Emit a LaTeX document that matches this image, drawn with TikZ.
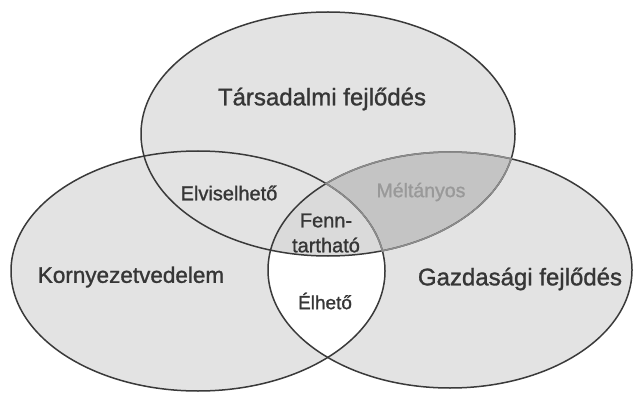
\documentclass[tikz,border=0pt]{standalone}
\usepackage{fontspec}
\setmainfont{Liberation Sans}
\newfontfamily\scanfont[FakeBold=1.2]{Liberation Sans}
\definecolor{lgray}{HTML}{E3E3E3}
\definecolor{dgray}{HTML}{C4C4C4}
\definecolor{cgray}{HTML}{DADADA}
\definecolor{edge}{HTML}{3A3A3A}
\definecolor{paleedge}{HTML}{8C8C8C}
\definecolor{txt}{HTML}{363636}
\begin{document}
\begin{tikzpicture}[x=1pt,y=-1pt,
  outline/.style={draw=edge, line width=1.5pt},
  paleline/.style={draw=paleedge, line width=1.5pt},
  biglab/.style={font=\scanfont\fontsize{24}{28}\selectfont, text=txt, inner sep=0pt},
  smalllab/.style={font=\scanfont\fontsize{20}{25}\selectfont, text=txt, inner sep=0pt, align=center},
  palelab/.style={font=\scanfont\fontsize{19.5}{22}\selectfont, text=black!40, inner sep=0pt}]
\useasboundingbox (0,0) rectangle (636,395);
\fill[white] (0,0) rectangle (636,395);
% base fills
\fill[lgray] (328,134) ellipse [x radius=187, y radius=122];
\fill[lgray] (198,271) ellipse [x radius=187, y radius=120];
\fill[lgray] (450,270) ellipse [x radius=182, y radius=118];
% top and right: darker
\begin{scope}
  \clip (328,134) ellipse [x radius=187, y radius=122];
  \fill[dgray] (450,270) ellipse [x radius=182, y radius=118];
\end{scope}
% left and right: white
\begin{scope}
  \clip (198,271) ellipse [x radius=187, y radius=120];
  \fill[white] (450,270) ellipse [x radius=182, y radius=118];
\end{scope}
% all three
\begin{scope}
  \clip (198,271) ellipse [x radius=187, y radius=120];
  \clip (450,270) ellipse [x radius=182, y radius=118];
  \fill[cgray] (328,134) ellipse [x radius=187, y radius=122];
\end{scope}
% outlines
\draw[outline] (328,134) ellipse [x radius=187, y radius=122];
\draw[outline] (198,271) ellipse [x radius=187, y radius=120];
\draw[outline] (450,270) ellipse [x radius=182, y radius=118];
% paler edges around the top-right lens
\begin{scope}[even odd rule]
  \clip (-10,-10) rectangle (650,410)
        (198,271) ellipse [x radius=186.1, y radius=119.1];
  \clip (328,134) ellipse [x radius=188, y radius=123];
  \clip (450,270) ellipse [x radius=183, y radius=119];
  \draw[paleline] (328,134) ellipse [x radius=187, y radius=122];
  \draw[paleline] (198,271) ellipse [x radius=187, y radius=120];
  \draw[paleline] (450,270) ellipse [x radius=182, y radius=118];
\end{scope}
% labels
\node[biglab] (tars) at (322,99) {Társadalmi fejlődés};
\node[biglab, font=\scanfont\fontsize{22.5}{26}\selectfont] (korny) at (131,277) {Kornyezetvedelem};
\node[biglab] (gazd) at (520,279) {Gazdasági fejlődés};
\node[smalllab] (elvis) at (229,193) {Elviselhető};
\node[palelab] (melt) at (421,192) {Méltányos};
\node[smalllab] (fenn) at (326,233) {Fenn-\\tartható};
\node[smalllab, font=\scanfont\fontsize{19}{22}\selectfont] (elh) at (325,301) {Élhető};
\end{tikzpicture}
\end{document}
